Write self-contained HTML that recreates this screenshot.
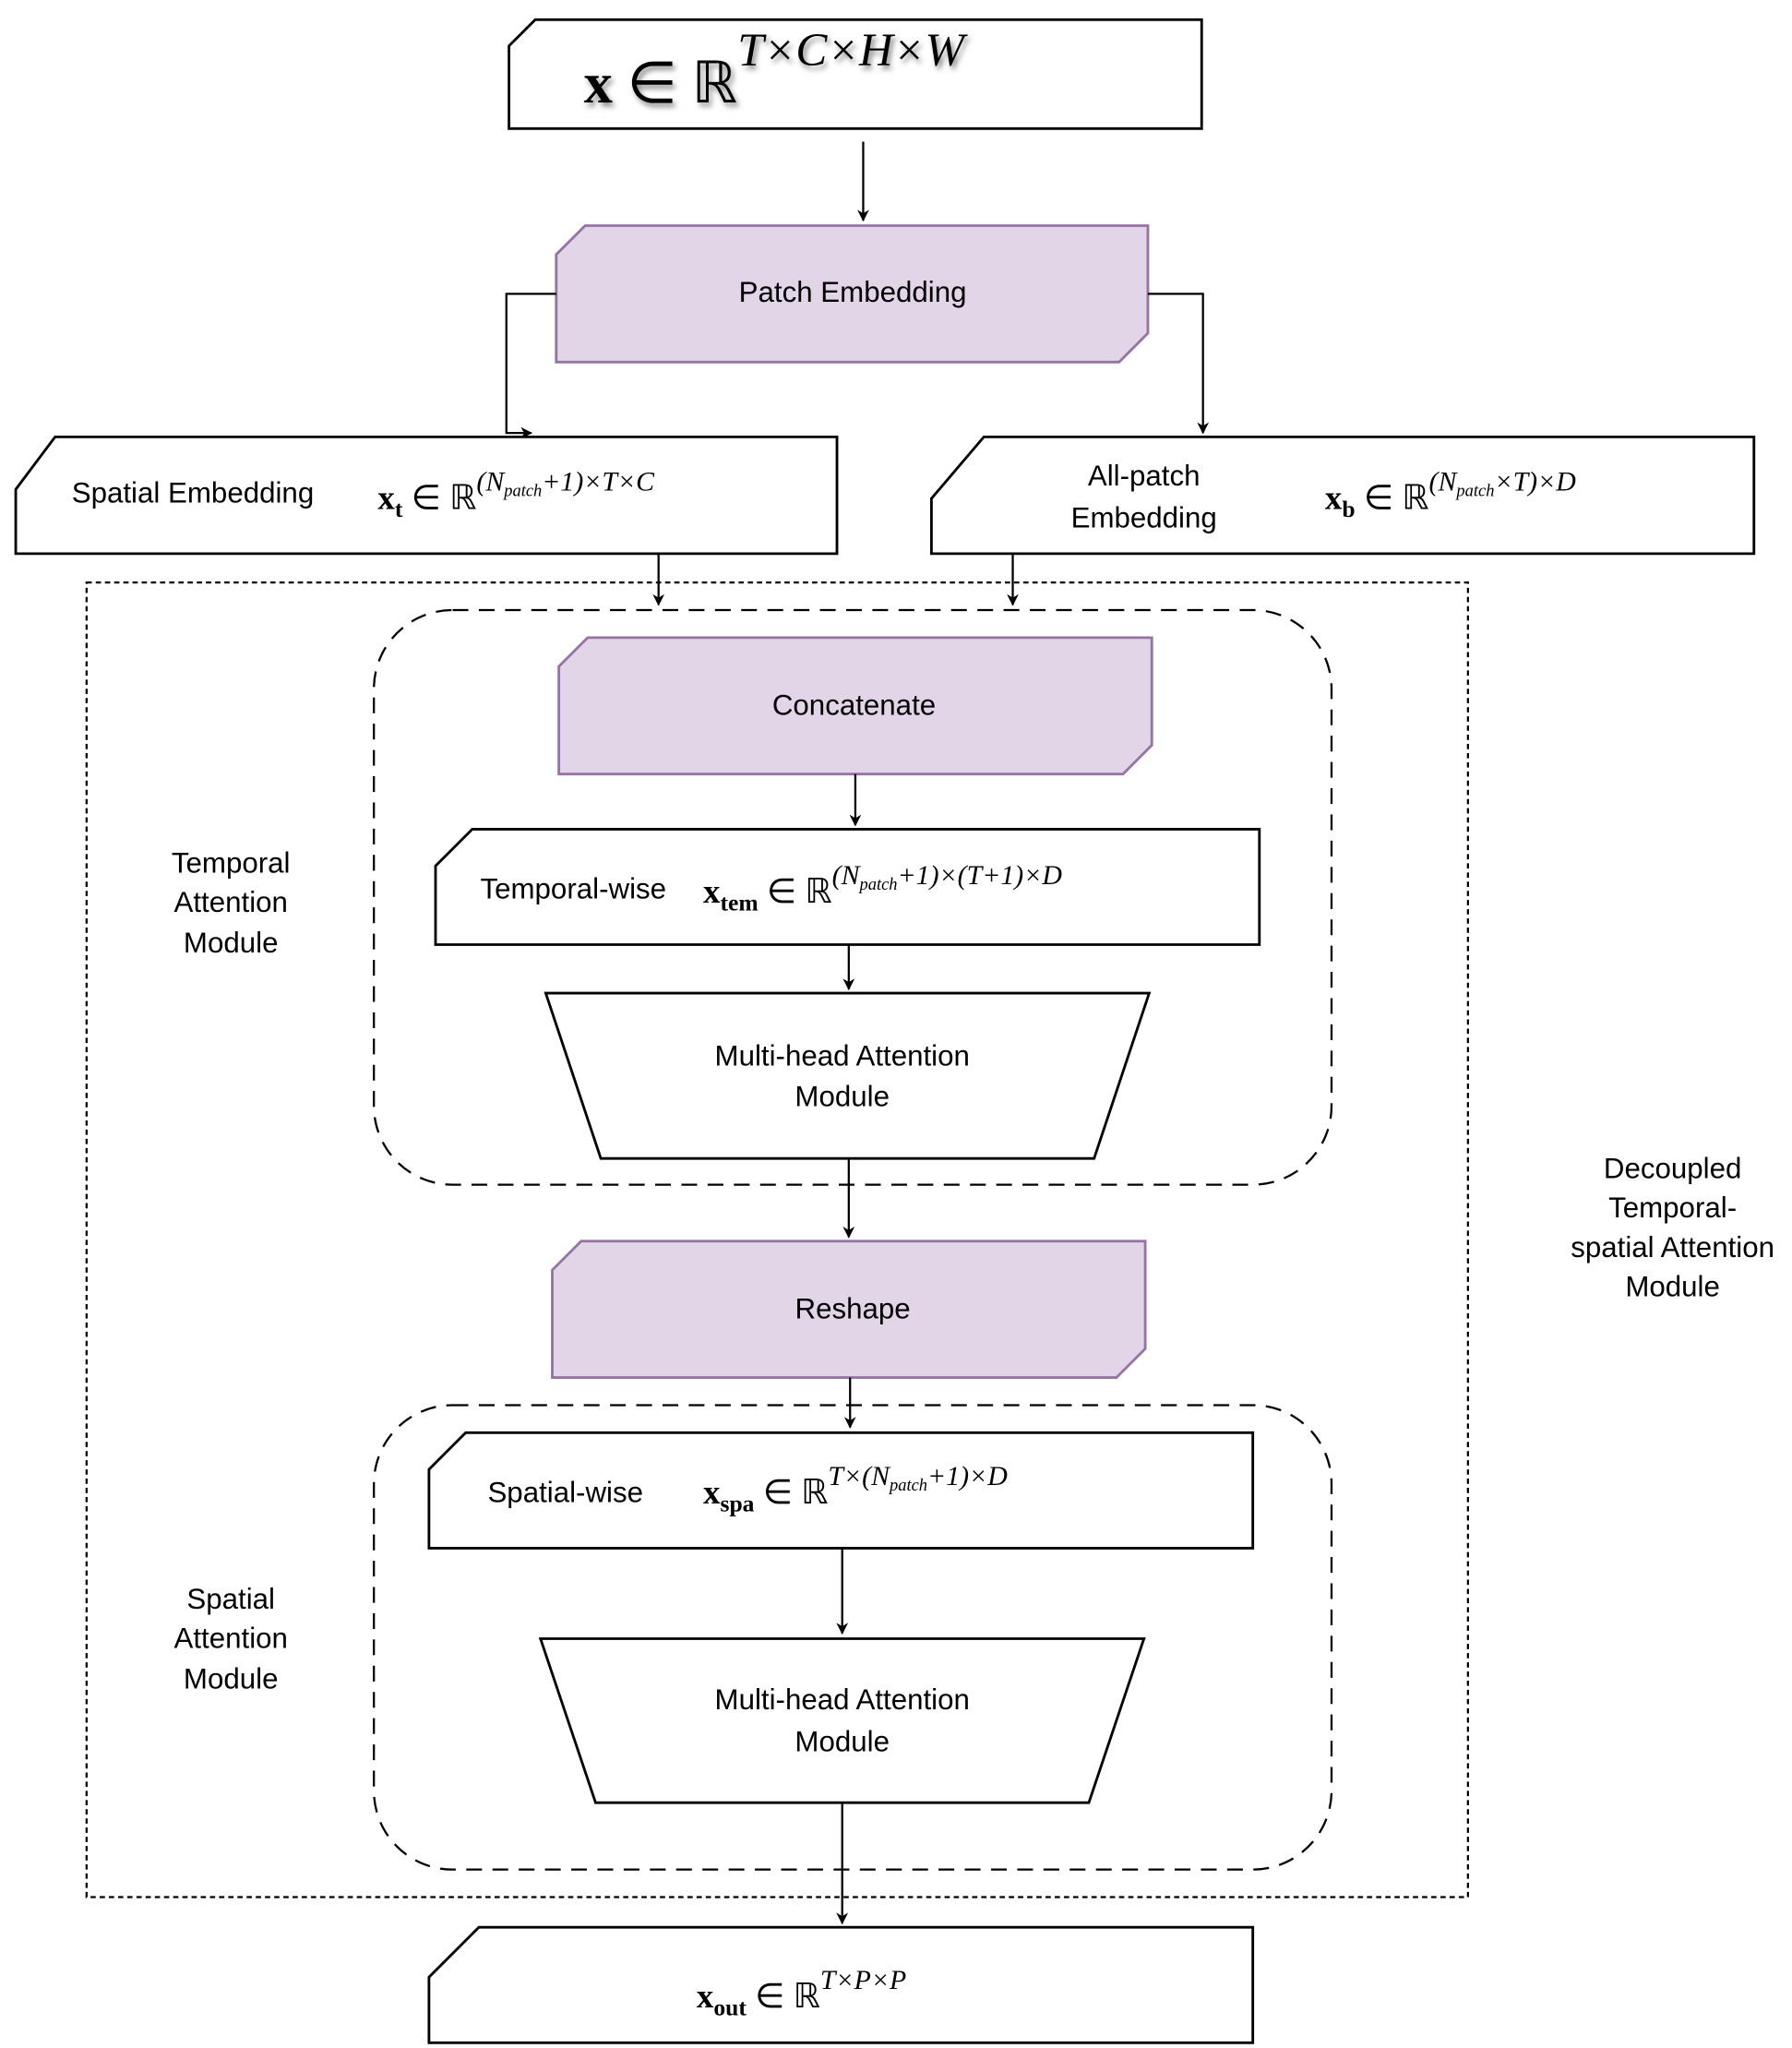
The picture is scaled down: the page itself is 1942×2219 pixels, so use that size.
<!DOCTYPE html>
<html><head><style>
html,body{margin:0;padding:0;background:#fff;}
svg{display:block;}
.t{font-family:"Liberation Sans",sans-serif;font-size:22px;fill:#000;text-anchor:middle;}
.m{font-family:"Liberation Serif",serif;fill:#000;}
</style></head><body>
<svg width="1942" height="2219" viewBox="0 0 1366 1561" preserveAspectRatio="none" xmlns="http://www.w3.org/2000/svg">
<defs>
<marker id="a" viewBox="0 0 10 10" refX="9" refY="5" markerWidth="9" markerHeight="9" markerUnits="userSpaceOnUse" orient="auto"><path d="M0,0 L10,5 L0,10 L3,5 z" fill="#000"/></marker>
<filter id="sh"><feDropShadow dx="2" dy="3" stdDeviation="2" flood-color="#888"/></filter>
</defs>
<g fill="none" stroke="#000" stroke-width="2">
<!-- top box -->
<path d="M408,15 L916,15 L916,98 L388,98 L388,35 Z" fill="#fff"/>
<!-- patch embedding -->
<path d="M446,172 L875,172 L875,254 L853,276 L424,276 L424,194 Z" fill="#e1d5e7" stroke="#9673a6"/>
<path d="M424,224 L386,224 L386,330 L405,330" marker-end="url(#a)" stroke-width="1.6"/>
<path d="M875,224 L917,224 L917,330" marker-end="url(#a)" stroke-width="1.6"/>
<line x1="658" y1="108" x2="658" y2="168" marker-end="url(#a)" stroke-width="1.6"/>
<!-- spatial embedding -->
<path d="M42,333 L638,333 L638,422 L12,422 L12,373 Z" fill="#fff"/>
<path d="M750,333 L1337,333 L1337,422 L710,422 L710,380 Z" fill="#fff"/>
<line x1="502" y1="422" x2="502" y2="461" marker-end="url(#a)" stroke-width="1.6"/>
<line x1="772" y1="422" x2="772" y2="461" marker-end="url(#a)" stroke-width="1.6"/>
<!-- outer dotted -->
<rect x="66" y="444" width="1053" height="1002" stroke-width="1.6" stroke-dasharray="4,3"/>
<rect x="285" y="465" width="730" height="438" rx="60" stroke-width="1.6" stroke-dasharray="12,8"/>
<rect x="285" y="1071" width="730" height="354" rx="60" stroke-width="1.6" stroke-dasharray="12,8"/>
<!-- concatenate -->
<path d="M448,486 L878,486 L878,568 L856,590 L426,590 L426,508 Z" fill="#e1d5e7" stroke="#9673a6"/>
<line x1="652" y1="590" x2="652" y2="629" marker-end="url(#a)" stroke-width="1.6"/>
<path d="M360,632 L960,632 L960,720 L332,720 L332,660 Z" fill="#fff"/>
<line x1="647" y1="720" x2="647" y2="754" marker-end="url(#a)" stroke-width="1.6"/>
<path d="M416,757 L876,757 L834,883 L458,883 Z" fill="#fff"/>
<line x1="647" y1="883" x2="647" y2="943" marker-end="url(#a)" stroke-width="1.6"/>
<!-- reshape -->
<path d="M443,946 L873,946 L873,1028 L851,1050 L421,1050 L421,968 Z" fill="#e1d5e7" stroke="#9673a6"/>
<line x1="648" y1="1050" x2="648" y2="1088" marker-end="url(#a)" stroke-width="1.6"/>
<path d="M355,1092 L955,1092 L955,1180 L327,1180 L327,1120 Z" fill="#fff"/>
<line x1="642" y1="1180" x2="642" y2="1245" marker-end="url(#a)" stroke-width="1.6"/>
<path d="M412,1249 L872,1249 L830,1374 L454,1374 Z" fill="#fff"/>
<line x1="642" y1="1374" x2="642" y2="1466" marker-end="url(#a)" stroke-width="1.6"/>
<path d="M365,1469 L955,1469 L955,1557 L327,1557 L327,1507 Z" fill="#fff"/>
</g>
<!-- texts -->
<text x="445" y="78" class="m" font-size="44" filter="url(#sh)"><tspan font-weight="bold">x</tspan> ∈ ℝ<tspan font-style="italic" font-size="36" dy="-28">T×C×H×W</tspan></text>
<text x="650" y="230" class="t">Patch Embedding</text>
<text x="147" y="383" class="t">Spatial Embedding</text>
<text x="288" y="388" class="m" font-size="26"><tspan font-weight="bold">x<tspan font-size="18" dy="6">t</tspan></tspan><tspan dy="-6"> ∈ ℝ</tspan><tspan font-style="italic" font-size="21" dy="-14">(N<tspan font-size="13" dy="4">patch</tspan><tspan dy="-4">+1)×T×C</tspan></tspan></text>
<text x="872" y="370" class="t">All-patch</text>
<text x="872" y="402" class="t">Embedding</text>
<text x="1010" y="388" class="m" font-size="26"><tspan font-weight="bold">x<tspan font-size="18" dy="6">b</tspan></tspan><tspan dy="-6"> ∈ ℝ</tspan><tspan font-style="italic" font-size="21" dy="-14">(N<tspan font-size="13" dy="4">patch</tspan><tspan dy="-4">×T)×D</tspan></tspan></text>
<text x="651" y="545" class="t">Concatenate</text>
<text x="437" y="685" class="t">Temporal-wise</text>
<text x="536" y="688" class="m" font-size="26"><tspan font-weight="bold">x<tspan font-size="18" dy="6">tem</tspan></tspan><tspan dy="-6"> ∈ ℝ</tspan><tspan font-style="italic" font-size="21" dy="-14">(N<tspan font-size="13" dy="4">patch</tspan><tspan dy="-4">+1)×(T+1)×D</tspan></tspan></text>
<text x="642" y="812" class="t">Multi-head Attention</text>
<text x="642" y="843" class="t">Module</text>
<text x="650" y="1005" class="t">Reshape</text>
<text x="431" y="1145" class="t">Spatial-wise</text>
<text x="536" y="1146" class="m" font-size="26"><tspan font-weight="bold">x<tspan font-size="18" dy="6">spa</tspan></tspan><tspan dy="-6"> ∈ ℝ</tspan><tspan font-style="italic" font-size="21" dy="-14">T×(N<tspan font-size="13" dy="4">patch</tspan><tspan dy="-4">+1)×D</tspan></tspan></text>
<text x="642" y="1303" class="t">Multi-head Attention</text>
<text x="642" y="1335" class="t">Module</text>
<text x="531" y="1530" class="m" font-size="26"><tspan font-weight="bold">x<tspan font-size="18" dy="6">out</tspan></tspan><tspan dy="-6"> ∈ ℝ</tspan><tspan font-style="italic" font-size="21" dy="-14">T×P×P</tspan></text>
<text x="176" y="665" class="t">Temporal</text>
<text x="176" y="695" class="t">Attention</text>
<text x="176" y="726" class="t">Module</text>
<text x="176" y="1226" class="t">Spatial</text>
<text x="176" y="1256" class="t">Attention</text>
<text x="176" y="1287" class="t">Module</text>
<text x="1275" y="898" class="t">Decoupled</text>
<text x="1275" y="928" class="t">Temporal-</text>
<text x="1275" y="958" class="t">spatial Attention</text>
<text x="1275" y="988" class="t">Module</text>
</svg>
</body></html>
